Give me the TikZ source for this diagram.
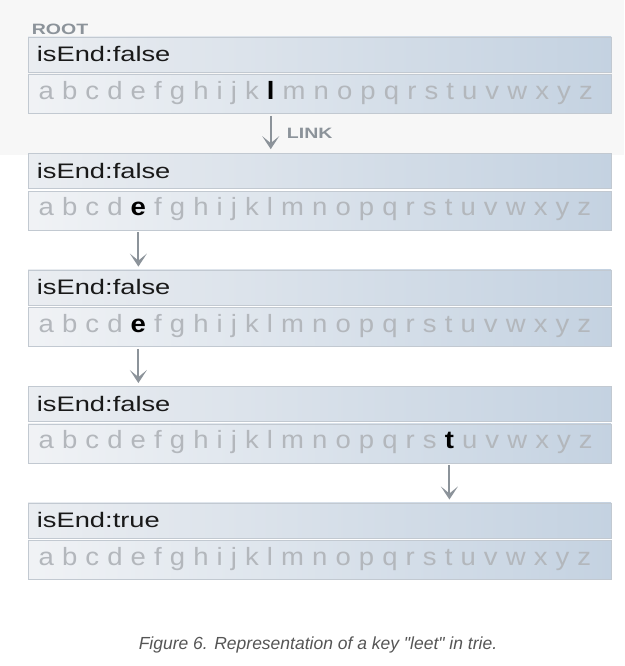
\documentclass[tikz,border=0pt]{standalone}
\usepackage{fontspec}
\setmainfont{Liberation Sans}
\newfontfamily\widefont[FakeStretch=1.3]{Liberation Sans}
\newfontfamily\letterfont[FakeStretch=1.1]{Liberation Sans}
\newfontfamily\capfont{Liberation Sans}
\usetikzlibrary{positioning,arrows.meta}

\definecolor{panelgray}{HTML}{F7F7F7}
\definecolor{boxleft}{HTML}{EAEDF1}
\definecolor{boxright}{HTML}{C4D2E1}
\definecolor{boxline}{HTML}{C2C9D1}
\definecolor{lettergray}{HTML}{B3B7BC}
\definecolor{linkgray}{HTML}{8C939A}
\definecolor{captiongray}{HTML}{555555}

\tikzset{
  hdrbox/.style={minimum width=583pt, minimum height=35pt, inner sep=0pt,
    left color=boxleft, right color=boxright, draw=boxline, line width=.6pt},
  rowbox/.style={hdrbox, minimum height=39pt, left color=boxleft!70!white},
  hdrtext/.style={font=\widefont\fontsize{21}{21}\selectfont, text=black!90,
    inner sep=0pt, anchor=base west},
  letter/.style={font=\letterfont\fontsize{25}{25}\selectfont, text=lettergray,
    inner sep=0pt, outer sep=0pt, anchor=base west},
  hlletter/.style={letter, text=black, font=\letterfont\fontsize{25}{25}\selectfont\bfseries},
  linkarrow/.style={draw=linkgray, line width=2pt,
    -{Stealth[length=13pt,width=17pt,inset=7pt]}},
  smalllabel/.style={font=\widefont\fontsize{15}{15}\selectfont\bfseries,
    text=linkgray, inner sep=0pt, anchor=base west},
  caption/.style={font=\capfont\fontsize{17.5}{17.5}\selectfont\itshape, text=captiongray,
    inner sep=0pt, anchor=base}
}

% one row of letters a..z, #3 printed black
\newcommand{\alphabetrow}[3]{%
  \node[letter] (#2-a) at ([xshift=11pt,yshift=-25pt]#1.north west) {a};
  \foreach \ch [remember=\ch as \prev (initially a)] in
      {b,c,d,e,f,g,h,i,j,k,l,m,n,o,p,q,r,s,t,u,v,w,x,y,z}{
    \if\ch#3\def\lsty{hlletter}\else\def\lsty{letter}\fi
    \node[\lsty] (#2-\ch) at ([xshift=8.1pt]#2-\prev.base east) {\ch};
  }%
}

\begin{document}
\begin{tikzpicture}[x=1pt,y=-1pt]
  \useasboundingbox (0,0) rectangle (624,666);
  \fill[panelgray] (0,0) rectangle (624,155);

  %% root node
  \node[hdrbox] (hdr1) at (319.5,54.5) {};
  \node[rowbox, below=2pt of hdr1] (row1) {};
  \node[hdrtext] (txt1) at ([xshift=9pt,yshift=-25pt]hdr1.north west) {isEnd:false};
  \alphabetrow{row1}{r1}{l}
  \node[smalllabel] (root) at ([xshift=4pt,yshift=2.5pt]hdr1.north west) {ROOT};

  %% second node
  \node[hdrbox, below=39.25pt of row1] (hdr2) {};
  \node[rowbox, below=2pt of hdr2] (row2) {};
  \node[hdrtext] (txt2) at ([xshift=9pt,yshift=-25pt]hdr2.north west) {isEnd:false};
  \alphabetrow{row2}{r2}{e}

  %% third node
  \node[hdrbox, below=39.25pt of row2] (hdr3) {};
  \node[rowbox, below=2pt of hdr3] (row3) {};
  \node[hdrtext] (txt3) at ([xshift=9pt,yshift=-25pt]hdr3.north west) {isEnd:false};
  \alphabetrow{row3}{r3}{e}

  %% fourth node
  \node[hdrbox, below=39.25pt of row3] (hdr4) {};
  \node[rowbox, below=2pt of hdr4] (row4) {};
  \node[hdrtext] (txt4) at ([xshift=9pt,yshift=-25pt]hdr4.north west) {isEnd:false};
  \alphabetrow{row4}{r4}{t}

  %% last node
  \node[hdrbox, below=39.25pt of row4] (hdr5) {};
  \node[rowbox, below=2pt of hdr5] (row5) {};
  \node[hdrtext] (txt5) at ([xshift=9pt,yshift=-25pt]hdr5.north west) {isEnd:true};
  \alphabetrow{row5}{r5}{-}

  %% links
  \coordinate (lnk1) at (r1-l |- row1.south);
  \draw[linkarrow, shorten <=2pt, shorten >=4pt] (lnk1) -- (r1-l |- hdr2.north);
  \node[smalllabel] (link) at ([xshift=16pt,yshift=-24.5pt]lnk1) {LINK};
  \draw[linkarrow, shorten <=2pt, shorten >=3pt] (r2-e |- row2.south) -- (r2-e |- hdr3.north);
  \draw[linkarrow, shorten <=2pt, shorten >=3pt] (r3-e |- row3.south) -- (r3-e |- hdr4.north);
  \draw[linkarrow, shorten <=2pt, shorten >=3pt] (r4-t |- row4.south) -- (r4-t |- hdr5.north);

  \node[caption] (cap) at (318,649) {Figure 6. Representation of a key "leet" in trie.};
\end{tikzpicture}
\end{document}
